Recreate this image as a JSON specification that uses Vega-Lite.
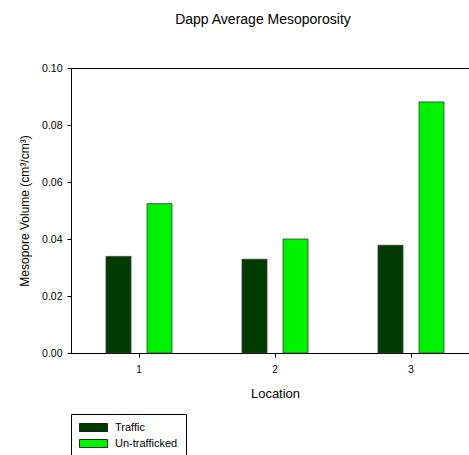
{
  "$schema": "https://vega.github.io/schema/vega-lite/v6.json",
  "autosize": "none",
  "width": 408,
  "height": 285,
  "padding": {"left": 71, "top": 68, "right": 0, "bottom": 102},
  "background": "white",
  "config": {
    "font": "Liberation Sans",
    "view": {"stroke": "black", "strokeWidth": 1},
    "axis": {"grid": false, "domainColor": "black", "tickColor": "black", "labelColor": "black", "titleColor": "black", "labelFont": "Liberation Sans", "titleFont": "Liberation Sans", "titleFontWeight": "normal"}
  },
  "title": {"text": "Dapp Average Mesoporosity", "fontSize": 14, "fontWeight": "normal", "font": "Liberation Sans", "anchor": "middle", "dx": -12, "offset": 36, "color": "black"},
  "data": {
    "values": [
      {"location": "1", "treatment": "Traffic", "volume": 0.0339},
      {"location": "1", "treatment": "Un-trafficked", "volume": 0.0524},
      {"location": "2", "treatment": "Traffic", "volume": 0.0329},
      {"location": "2", "treatment": "Un-trafficked", "volume": 0.0400},
      {"location": "3", "treatment": "Traffic", "volume": 0.0378},
      {"location": "3", "treatment": "Un-trafficked", "volume": 0.0881}
    ]
  },
  "mark": {"type": "bar", "stroke": "#3a3a3a", "strokeWidth": 0.8},
  "encoding": {
    "x": {
      "field": "location", "type": "nominal",
      "scale": {"paddingInner": 0.397, "paddingOuter": 0.1985},
      "axis": {"title": "Location", "labelAngle": 0, "labelFontSize": 10, "titleFontSize": 13, "tickSize": 4, "labelPadding": 7, "titlePadding": 13}
    },
    "xOffset": {
      "field": "treatment", "type": "nominal",
      "scale": {"paddingInner": 0.39, "paddingOuter": 0.195}
    },
    "y": {
      "field": "volume", "type": "quantitative",
      "scale": {"domain": [0, 0.1]},
      "axis": {"title": "Mesopore Volume (cm³/cm³)", "values": [0, 0.02, 0.04, 0.06, 0.08, 0.1], "format": ".2f", "labelFontSize": 10.5, "titleFontSize": 12, "tickSize": 4, "labelPadding": 5, "titlePadding": 10}
    },
    "fill": {
      "field": "treatment", "type": "nominal",
      "scale": {"domain": ["Traffic", "Un-trafficked"], "range": ["#003c00", "#00f200"]},
      "legend": {
        "title": null,
        "orient": "none",
        "legendX": 0,
        "legendY": 346,
        "direction": "vertical",
        "padding": 8,
        "strokeColor": "black",
        "symbolType": "M-1,-0.8H4.6V0.8H-1Z",
        "symbolSize": 100,
        "symbolStrokeColor": "black",
        "symbolStrokeWidth": 0.8,
        "labelFontSize": 11,
        "labelColor": "black",
        "labelFont": "Liberation Sans",
        "rowPadding": 3,
        "symbolOffset": 0,
        "labelOffset": 25
      }
    }
  }
}
